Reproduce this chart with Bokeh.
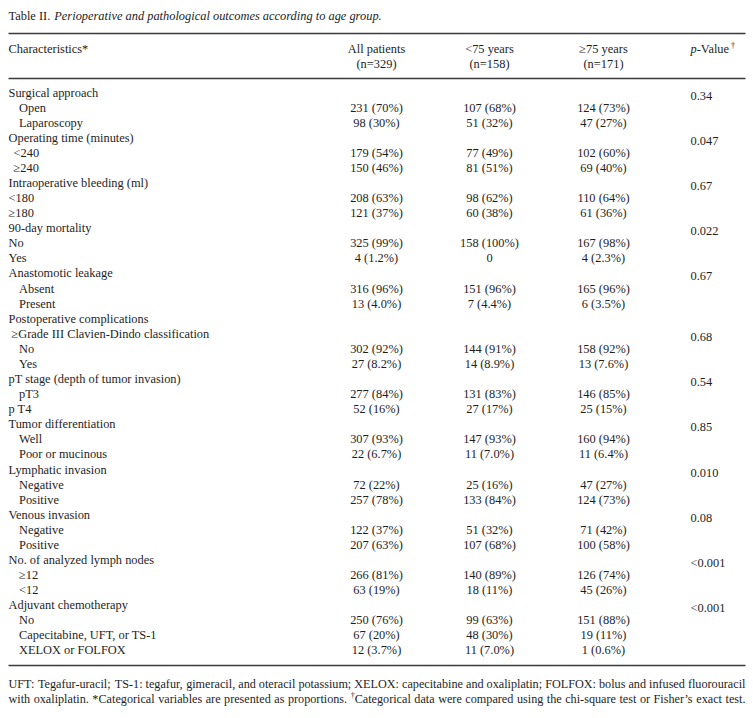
from bokeh.plotting import figure
from bokeh.models import ColumnDataSource, Range1d
from bokeh.core.properties import value
from bokeh.embed import file_html
from bokeh.resources import INLINE

# ---------------- data ----------------
title_label = "Table II."
title_text = "Perioperative and pathological outcomes according to age group."
char_header = "Characteristics*"
col_headers = ["All patients", "<75 years", "\u226575 years"]
col_ns = ["(n=329)", "(n=158)", "(n=171)"]
p_header = ["p", "-Value", "\u2020"]

characteristics = [
    "Surgical approach", "Open", "Laparoscopy",
    "Operating time (minutes)", "<240", "\u2265240",
    "Intraoperative bleeding (ml)", "<180", "\u2265180",
    "90-day mortality", "No", "Yes",
    "Anastomotic leakage", "Absent", "Present",
    "Postoperative complications", "\u2265Grade III Clavien-Dindo classification", "No", "Yes",
    "pT stage (depth of tumor invasion)", "pT3", "p T4",
    "Tumor differentiation", "Well", "Poor or mucinous",
    "Lymphatic invasion", "Negative", "Positive",
    "Venous invasion", "Negative", "Positive",
    "No. of analyzed lymph nodes", "\u226512", "<12",
    "Adjuvant chemotherapy", "No", "Capecitabine, UFT, or TS-1", "XELOX or FOLFOX",
]
# hierarchy level of each row label (0 heading, 1 sub-item, 2 half-indented, 3 slight)
levels = [0, 1, 1, 0, 2, 2, 0, 0, 0, 0, 0, 0, 0, 1, 1, 0, 3, 1, 1,
          0, 1, 0, 0, 1, 1, 0, 1, 1, 0, 1, 1, 0, 1, 1, 0, 1, 1, 1]
all_patients = ["", "231 (70%)", "98 (30%)", "", "179 (54%)", "150 (46%)",
                "", "208 (63%)", "121 (37%)", "", "325 (99%)", "4 (1.2%)",
                "", "316 (96%)", "13 (4.0%)", "", "", "302 (92%)", "27 (8.2%)",
                "", "277 (84%)", "52 (16%)", "", "307 (93%)", "22 (6.7%)",
                "", "72 (22%)", "257 (78%)", "", "122 (37%)", "207 (63%)",
                "", "266 (81%)", "63 (19%)", "", "250 (76%)", "67 (20%)", "12 (3.7%)"]
under75 = ["", "107 (68%)", "51 (32%)", "", "77 (49%)", "81 (51%)",
           "", "98 (62%)", "60 (38%)", "", "158 (100%)", "0",
           "", "151 (96%)", "7 (4.4%)", "", "", "144 (91%)", "14 (8.9%)",
           "", "131 (83%)", "27 (17%)", "", "147 (93%)", "11 (7.0%)",
           "", "25 (16%)", "133 (84%)", "", "51 (32%)", "107 (68%)",
           "", "140 (89%)", "18 (11%)", "", "99 (63%)", "48 (30%)", "11 (7.0%)"]
over75 = ["", "124 (73%)", "47 (27%)", "", "102 (60%)", "69 (40%)",
          "", "110 (64%)", "61 (36%)", "", "167 (98%)", "4 (2.3%)",
          "", "165 (96%)", "6 (3.5%)", "", "", "158 (92%)", "13 (7.6%)",
          "", "146 (85%)", "25 (15%)", "", "160 (94%)", "11 (6.4%)",
          "", "47 (27%)", "124 (73%)", "", "71 (42%)", "100 (58%)",
          "", "126 (74%)", "45 (26%)", "", "151 (88%)", "19 (11%)", "1 (0.6%)"]
p_values = ["0.34", "", "", "0.047", "", "", "0.67", "", "", "0.022", "", "",
            "0.67", "", "", "", "0.68", "", "", "0.54", "", "", "0.85", "", "",
            "0.010", "", "", "0.08", "", "", "<0.001", "", "", "<0.001", "", "", ""]

footnote_lines = [
    "UFT: Tegafur-uracil; TS-1: tegafur, gimeracil, and oteracil potassium; XELOX: capecitabine and oxaliplatin; FOLFOX: bolus and infused fluorouracil",
    "with oxaliplatin. *Categorical variables are presented as proportions. \u2020Categorical data were compared using the chi-square test or Fisher\u2019s exact test.",
]

# ---------------- layout / style ----------------
FONT = "Liberation Serif"
FS = 12.4
FS_FOOT = 12.2
INK = "#1e1e1e"
W, H = 750, 715
LEFT, RIGHT = 8, 745
Y_TITLE = 15
Y_RULE1, Y_RULE2, Y_RULE3 = 33, 78, 665
Y_H1, Y_H2 = 48, 63
Y_ROW0, ROW_H = 92, 15.08
P_SHIFT = 3
Y_FOOT = [683, 698]
COL_CENTERS = [376, 489, 603]
P_X = 690
INDENT = {0: 0, 1: 10.5, 2: 5, 3: 3}

# Times-Roman advance widths (Liberation Serif is metric compatible)
TW = {' ': 250, '!': 333, '(': 333, ')': 333, '*': 500, '+': 564, ',': 250, '-': 333,
      '.': 250, '/': 278, ':': 278, ';': 278, '<': 564, '=': 564, '>': 564, '%': 833,
      'A': 722, 'B': 667, 'C': 667, 'D': 722, 'E': 611, 'F': 556, 'G': 722, 'H': 722,
      'I': 333, 'J': 389, 'K': 722, 'L': 611, 'M': 889, 'N': 722, 'O': 722, 'P': 556,
      'Q': 722, 'R': 667, 'S': 556, 'T': 611, 'U': 722, 'V': 722, 'W': 944, 'X': 722,
      'Y': 722, 'Z': 611, 'a': 444, 'b': 500, 'c': 444, 'd': 500, 'e': 444, 'f': 333,
      'g': 500, 'h': 500, 'i': 278, 'j': 278, 'k': 500, 'l': 278, 'm': 778, 'n': 500,
      'o': 500, 'p': 500, 'q': 500, 'r': 333, 's': 389, 't': 278, 'u': 500, 'v': 500,
      'w': 722, 'x': 500, 'y': 500, 'z': 444, '\u2019': 333, '\u2020': 500, '\u2265': 549}


def tw(s, fs):
    return sum(TW.get(ch, 500) for ch in s) * fs / 1000.0


p = figure(width=W, height=H, x_range=Range1d(0, W), y_range=Range1d(H, 0),
           output_backend="svg", toolbar_location=None, min_border=0,
           x_axis_type=None, y_axis_type=None)
p.grid.visible = False
p.outline_line_color = None
p.background_fill_color = "white"
p.border_fill_color = "white"


def put(x, y, t, align="left", fs=FS, style="normal"):
    src = ColumnDataSource(dict(x=list(x), y=list(y), t=list(t)))
    p.text(x="x", y="y", text="t", source=src, text_font=value(FONT),
           text_font_size=f"{fs}px", text_font_style=style, text_align=align,
           text_baseline="middle", text_color=INK)


# title
put([LEFT], [Y_TITLE], [title_label])
put([LEFT + tw(title_label + " ", FS)], [Y_TITLE], [title_text], style="italic")

# rules
for yr in (Y_RULE1, Y_RULE2, Y_RULE3):
    p.segment(x0=[LEFT], x1=[RIGHT], y0=[yr], y1=[yr], line_color="#3a3a3a", line_width=1.3)

# header
put([LEFT], [Y_H1], [char_header])
put(COL_CENTERS, [Y_H1] * 3, col_headers, align="center")
put(COL_CENTERS, [Y_H2] * 3, col_ns, align="center")
put([P_X], [Y_H1], [p_header[0]], style="italic")
px2 = P_X + tw("p", FS)
put([px2], [Y_H1], [p_header[1]])
put([px2 + tw(p_header[1], FS) + 0.5], [Y_H1 - 3.5], [p_header[2]], fs=FS * 0.65)

# body rows
ys = [Y_ROW0 + i * ROW_H for i in range(len(characteristics))]
put([LEFT + INDENT[l] for l in levels], ys, characteristics)
for col, vals in zip(COL_CENTERS, (all_patients, under75, over75)):
    idx = [i for i, v in enumerate(vals) if v]
    put([col] * len(idx), [ys[i] for i in idx], [vals[i] for i in idx], align="center")
pidx = [i for i, v in enumerate(p_values) if v]
put([P_X] * len(pidx), [ys[i] + P_SHIFT for i in pidx], [p_values[i] for i in pidx])

# footnote, justified word by word
for line, yf in zip(footnote_lines, Y_FOOT):
    words = line.split(" ")
    widths = []
    for w in words:
        if w.startswith("\u2020"):
            widths.append(tw("\u2020", FS_FOOT * 0.65) + tw(w[1:], FS_FOOT))
        else:
            widths.append(tw(w, FS_FOOT))
    gap = (RIGHT - LEFT - sum(widths)) / (len(words) - 1)
    x = LEFT
    nx, nt, sx, st = [], [], [], []
    for w, wd in zip(words, widths):
        if w.startswith("\u2020"):
            sx.append(x)
            st.append("\u2020")
            nx.append(x + tw("\u2020", FS_FOOT * 0.65))
            nt.append(w[1:])
        else:
            nx.append(x)
            nt.append(w)
        x += wd + gap
    put(nx, [yf] * len(nx), nt, fs=FS_FOOT)
    if sx:
        put(sx, [yf - 3.5] * len(sx), st, fs=FS_FOOT * 0.65)

open("out.html", "w").write(file_html(p, INLINE))
